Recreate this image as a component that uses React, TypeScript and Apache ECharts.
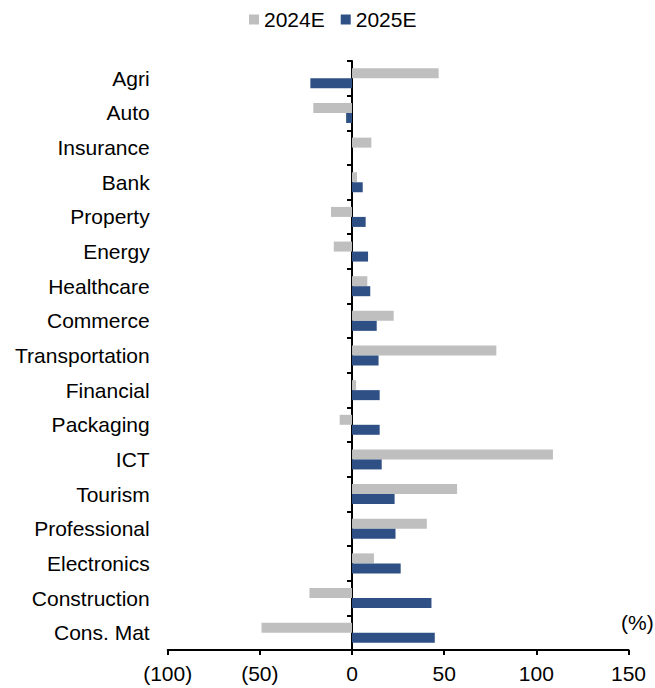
import React, { useEffect, useRef } from "react";
import * as echarts from "echarts";

const categories = [
  "Agri", "Auto", "Insurance", "Bank", "Property", "Energy", "Healthcare",
  "Commerce", "Transportation", "Financial", "Packaging", "ICT", "Tourism",
  "Professional", "Electronics", "Construction", "Cons. Mat",
];
const values2024 = [47, -21, 10.5, 2.7, -11.4, -9.9, 8.3, 22.6, 78.3, 2.2, -6.7, 109, 57, 40.6, 11.9, -23.1, -49.1];
const values2025 = [-22.6, -3.2, 0, 5.8, 7.4, 8.7, 9.9, 13.4, 14.4, 15, 15, 16.1, 23.1, 23.6, 26.4, 43.1, 44.9];
const xTicks = { min: -100, max: 150, interval: 50 };

const FONT = "'Liberation Sans', Arial, sans-serif";
const FS = 21;

export default function App() {
  const ref = useRef<HTMLDivElement>(null);
  useEffect(() => {
    if (!ref.current) return;
    const chart = echarts.init(ref.current, null, { renderer: "svg" });
    chart.setOption({
      animation: false,
      textStyle: { fontFamily: FONT, color: "#000" },
      legend: {
        left: 249,
        top: 9,
        padding: 0,
        itemWidth: 10,
        itemHeight: 10,
        itemGap: 16,
        icon: "rect",
        textStyle: { fontSize: FS, color: "#000", fontFamily: FONT },
        data: ["2024E", "2025E"],
      },
      grid: { left: 167.7, right: 26.5, top: 61, bottom: 38, containLabel: false },
      xAxis: {
        type: "value",
        min: xTicks.min,
        max: xTicks.max,
        interval: xTicks.interval,
        splitLine: { show: false },
        axisLine: { show: true, lineStyle: { color: "#000", width: 2 } },
        axisTick: { show: true, length: 5, lineStyle: { color: "#000", width: 2 } },
        axisLabel: {
          fontSize: FS,
          color: "#000",
          fontFamily: FONT,
          margin: 13,
          formatter: (v: number) => (v < 0 ? `(${Math.abs(v)})` : `${v}`),
        },
      },
      yAxis: [
        {
          type: "category",
          data: categories,
          inverse: true,
          axisLine: { show: true, onZero: true, lineStyle: { color: "#000", width: 2 } },
          axisTick: { show: true, length: 5, lineStyle: { color: "#000", width: 2 } },
          axisLabel: { show: false },
          splitLine: { show: false },
        },
        {
          type: "category",
          data: categories,
          inverse: true,
          position: "left",
          axisLine: { show: false, onZero: false },
          axisTick: { show: false },
          axisLabel: { fontSize: FS, color: "#000", fontFamily: FONT, margin: 18 },
          splitLine: { show: false },
        },
      ],
      series: [
        {
          name: "2024E",
          type: "bar",
          yAxisIndex: 0,
          data: values2024,
          barWidth: 10,
          barGap: "0%",
          itemStyle: { color: "#BFBFBF" },
        },
        {
          name: "2025E",
          type: "bar",
          yAxisIndex: 0,
          data: values2025,
          barWidth: 10,
          barGap: "0%",
          itemStyle: { color: "#2F5084" },
        },
      ],
      graphic: [
        {
          type: "text",
          left: 621,
          top: 612,
          style: { text: "(%)", fontSize: FS, fill: "#000", fontFamily: FONT },
        },
      ],
    });
    return () => chart.dispose();
  }, []);
  return (
    <div
      ref={ref}
      style={{ position: "absolute", left: 0, top: 0, width: 655, height: 688 }}
    />
  );
}
